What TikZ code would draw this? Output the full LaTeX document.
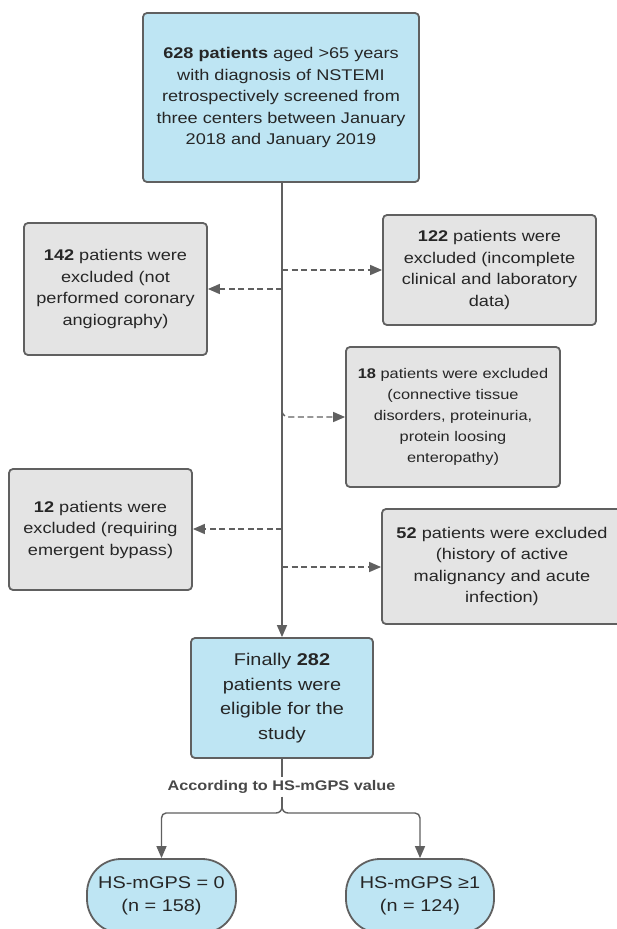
\documentclass[tikz,border=0pt]{standalone}
\usepackage{fontspec}
\setmainfont{Liberation Sans}[FakeStretch=1.17]
\usetikzlibrary{arrows.meta}
\definecolor{boxblue}{HTML}{BEE5F3}
\definecolor{boxgray}{HTML}{E4E4E4}
\definecolor{edgegray}{HTML}{606060}
\definecolor{txt}{HTML}{262626}
\begin{document}
\begin{tikzpicture}[x=1pt,y=-1pt,
  box/.style={draw=edgegray, line width=1.8pt, rounded corners=4pt, inner sep=0pt,
    align=center, text=txt, font={\fontsize{15.5}{21.5}\selectfont}},
  bluebox/.style={box, fill=boxblue},
  graybox/.style={box, fill=boxgray},
  pill/.style={box, fill=boxblue, rounded corners=34pt, font={\fontsize{17}{23.3}\selectfont}},
  conn/.style={draw=edgegray, line width=1.4pt},
  tip/.style={-{Triangle[length=12pt,width=10pt]}},
  dashconn/.style={conn, tip, dash pattern=on 6pt off 3.5pt}
]
\clip (0,0) rectangle (617,929);
\fill[white] (0,0) rectangle (617,929);

\node[bluebox, minimum width=276pt, minimum height=169pt] (top) at (281,97.5)
  {\textbf{628 patients} aged >65 years\\with diagnosis of NSTEMI\\retrospectively screened from\\three centers between January\\2018 and January 2019};

\node[graybox, minimum width=183pt, minimum height=132pt] (b142) at (115.5,289)
  {\textbf{142} patients were\\excluded (not\\performed coronary\\angiography)};
\node[graybox, minimum width=213pt, minimum height=110pt] (b122) at (489.5,270)
  {\textbf{122} patients were\\excluded (incomplete\\clinical and laboratory\\data)};
\node[graybox, minimum width=214pt, minimum height=140pt, font={\fontsize{14}{21}\selectfont}] (b18) at (453,417)
  {\textbf{18} patients were excluded\\(connective tissue\\disorders, proteinuria,\\protein loosing\\enteropathy)};
\node[graybox, minimum width=183pt, minimum height=121pt] (b12) at (100.5,529.5)
  {\textbf{12} patients were\\excluded (requiring\\emergent bypass)};
\node[graybox, minimum width=250pt, minimum height=115pt, text width=240pt, xshift=0pt] (b52) at (507,566.5)
  {\hspace*{-10pt}\textbf{52} patients were excluded\\\hspace*{-10pt}(history of active\\\hspace*{-10pt}malignancy and acute\\\hspace*{-10pt}infection)};

\node[bluebox, minimum width=182pt, minimum height=120pt, font={\fontsize{17}{24.4}\selectfont}] (final) at (282,698)
  {Finally \textbf{282}\\patients were\\eligible for the\\study};

\node[text=edgegray!75!black, font={\fontsize{13.9}{16}\selectfont\bfseries}, inner sep=3pt] (lbl) at (281.5,787)
  {According to HS-mGPS value};

\node[pill, minimum width=149pt, minimum height=74pt] (hs0) at (161.5,896)
  {HS-mGPS = 0\\(n = 158)};
\node[pill, minimum width=148pt, minimum height=74pt] (hs1) at (420,896)
  {HS-mGPS ≥1\\(n = 124)};

% main trunk
\draw[conn, tip] (top.south -| final.north) -- (final.north);

% exclusion arrows
\coordinate (j142) at (282,289);
\coordinate (j122) at (282,270);
\coordinate (j18) at (282,411);
\coordinate (j12) at (282,529);
\coordinate (j52) at (282,567);
\draw[dashconn] (j142) -- (b142.east |- j142);
\draw[dashconn] (j122) -- (b122.west |- j122);
\draw[dashconn] (j18) to[out=-90,in=180] (289,417) -- (b18.west |- 289,417);
\draw[dashconn] (j12) -- (b12.east |- j12);
\draw[dashconn] (j52) -- (b52.west |- j52);

% split
\coordinate (split) at (282,807);
\draw[conn] (final.south) -- (lbl.north -| final.south);
\draw[conn] (lbl.south -| final.south) -- (split);
\draw[conn, tip] (split) to[out=-90,in=0] (276,813) -- (166,813) to[out=180,in=90] (161.5,818) -- (hs0.north);
\draw[conn, tip] (split) to[out=-90,in=180] (288,813) -- (415,813) to[out=0,in=90] (420,818) -- (hs1.north);
\end{tikzpicture}
\end{document}
